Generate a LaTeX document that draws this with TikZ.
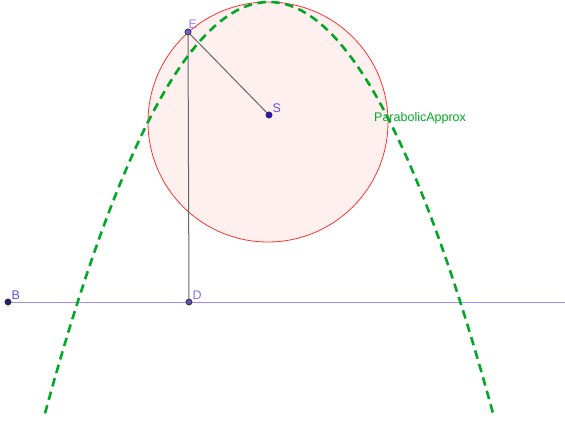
\documentclass[tikz,border=0pt]{standalone}
\usepackage{fontspec}
\setmainfont{Liberation Sans}
\usetikzlibrary{positioning, calc}
\definecolor{circred}{HTML}{FF3333}
\definecolor{circfill}{HTML}{FFF0F0}
\definecolor{linepurple}{HTML}{9D8CFF}
\definecolor{parabgreen}{HTML}{00A825}
\definecolor{ptlabel}{HTML}{6A4BF0}
\definecolor{ptdark}{HTML}{22206E}
\definecolor{ptlight}{HTML}{6C5FD9}
\definecolor{ptblue}{HTML}{2A10D8}
\begin{document}
\begin{tikzpicture}[
  x=1pt, y=-1pt,
  font=\fontsize{12.5}{14}\selectfont,
  pt/.style={circle, draw=black!80, fill=#1, line width=0.6pt,
             inner sep=0pt, minimum size=6pt},
  pt/.default=ptdark,
  ptlab/.style={text=ptlabel, inner sep=1pt},
  seg/.style={draw=black!60, line width=1pt},
  parab/.style={draw=parabgreen, line width=2.6pt, dash pattern=on 8.5pt off 5.5pt}
]
  \useasboundingbox (0,0) rectangle (565,422);
  % circle with centre C
  \coordinate (C) at (268,122);
  \filldraw[draw=circred, fill=circfill, line width=0.8pt] (C) circle[radius=120];
  % points
  \node[pt=ptlight] (E) at (188,32) {};
  \node[pt=ptblue] (S) at (269,115) {};
  \node[pt] (B) at (8,302) {};
  \node[pt=ptlight!85!black] (D) at (189,302) {};
  \coordinate (Bend) at (565,302);
  % line and segments
  \draw[linepurple, line width=1pt] (B) -- (Bend);
  \draw[seg] (E) -- (S);
  \draw[seg] (E) -- (D);
  % approximating parabola
  \draw[parab] plot[domain=45:493, samples=120] (\x, {2+(0.09055*(\x-269))^2});
  \node[pt=ptlight] at (E) {};
  \node[pt=ptblue] at (S) {};
  \node[pt] at (B) {};
  \node[pt=ptlight!85!black] at (D) {};
  % labels
  \node[ptlab, text=ptlabel!70!white, above right=0pt and -3pt of E] (Elab) {E};
  \node[ptlab, above right=-1pt and 0pt of S] (Slab) {S};
  \node[ptlab, above right=-1pt and 0pt of B] (Blab) {B};
  \node[ptlab, text=ptlabel!80!white, above right=-1pt and 0pt of D] (Dlab) {D};
  \node[text=parabgreen, anchor=west, inner sep=0pt] (plab) at (374,118) {ParabolicApprox};
\end{tikzpicture}
\end{document}
